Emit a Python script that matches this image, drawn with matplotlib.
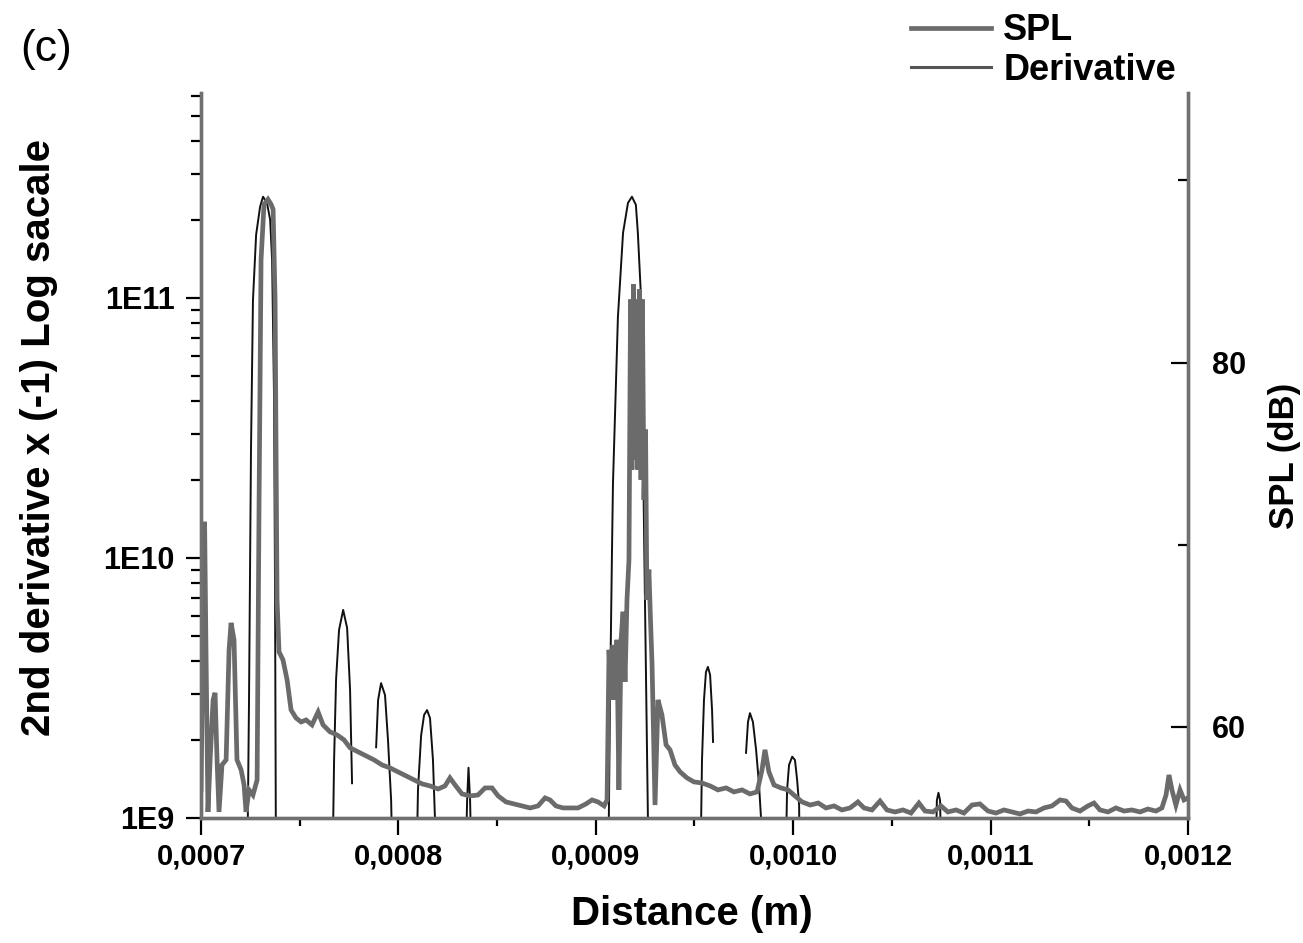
import numpy as np
import matplotlib
matplotlib.use('Agg')
import matplotlib.pyplot as plt
from matplotlib.ticker import MultipleLocator, FuncFormatter, LogLocator, NullFormatter

# ---------- data ---------- #

# SPL curve: distance in micrometres, level in dB
spl_um = [700.0, 701.0, 701.8, 702.5, 703.5, 704.6, 706.1, 707.1, 708.1, 709.1,
          710.6, 712.7, 714.2, 715.2, 716.7, 718.2, 720.3, 721.8, 722.8, 724.3,
          726.3, 728.4, 729.4, 730.4, 731.9, 733.9, 735.5, 736.5, 737.5, 738.5,
          739.5, 741.5, 743.6, 745.6, 748.1, 750.7, 753.2, 756.2, 759.3, 761.8,
          765.3, 768.9, 772.4, 775.5, 779.5, 783.6, 787.6, 791.7, 795.7, 799.8,
          803.9, 807.9, 812.0, 816.0, 820.1, 823.6, 826.1, 828.7, 832.2, 836.3,
          840.3, 843.9, 847.4, 850.5, 854.5, 858.6, 862.6, 866.7, 870.7, 874.3,
          876.8, 879.8, 883.4, 886.9, 891.0, 895.0, 898.1, 901.1, 904.2,
          905.7, 906.7, 907.7, 908.7, 909.7, 910.7, 911.7, 912.8, 913.8, 914.8,
          915.8, 916.8, 917.6, 918.3, 919.1, 919.8, 920.6, 921.3, 922.1, 922.9,
          923.6, 924.4, 925.2, 925.9, 926.9, 927.7, 928.5, 930.0,
          931.5, 933.5, 935.6, 937.6,
          940.1, 942.7, 946.2, 949.7, 953.8, 957.9, 961.9, 966.0, 970.0, 974.1,
          978.1, 981.7, 984.2, 985.7, 987.7, 990.3, 993.8, 997.4, 1000.9, 1004.5,
          1008.6, 1012.7, 1016.6, 1020.7, 1024.7, 1028.8, 1032.8, 1035.9, 1039.9, 1044.0,
          1047.5, 1051.6, 1055.6, 1059.7, 1063.7, 1066.8, 1070.8, 1074.9, 1078.4, 1082.5,
          1086.5, 1090.6, 1094.6, 1098.7, 1102.7, 1106.8, 1110.8, 1114.9, 1119.0, 1123.0,
          1127.1, 1131.1, 1135.2, 1138.2, 1141.2, 1145.3, 1149.3, 1152.4, 1155.4, 1159.5,
          1163.5, 1167.6, 1171.6, 1175.7, 1179.7, 1183.8, 1186.8, 1188.9, 1190.4, 1191.9,
          1193.9, 1196.0, 1198.0, 1200.0]
spl_db = [56.54, 65.88, 71.26, 64.23, 55.33, 58.19, 61.48, 61.87, 58.19, 55.33,
          57.91, 58.19, 64.23, 65.71, 64.78, 58.19, 57.64, 56.81, 55.33, 56.54,
          56.26, 57.09, 72.47, 85.66, 88.68, 88.96, 88.68, 88.41, 83.46, 66.98,
          64.12, 63.68, 62.58, 60.93, 60.49, 60.27, 60.38, 60.11, 60.82, 60.11,
          59.73, 59.56, 59.29, 58.85, 58.63, 58.41, 58.19, 57.91, 57.75, 57.53,
          57.31, 57.09, 56.87, 56.76, 56.59, 56.76, 57.20, 56.81, 56.32, 56.21,
          56.26, 56.65, 56.65, 56.21, 55.88, 55.77, 55.66, 55.55, 55.66, 56.10,
          55.99, 55.66, 55.55, 55.55, 55.55, 55.77, 55.99, 55.88, 55.66,
          55.99, 64.23, 61.48, 64.50, 61.48, 64.78, 56.54, 64.78, 66.32, 62.47,
          66.98, 69.18, 83.46, 74.12, 84.29, 74.67, 83.46, 74.12, 84.01, 73.57,
          83.46, 72.47, 76.32, 66.98, 68.63, 65.88, 63.41, 55.71,
          61.48, 60.66, 59.01, 58.74,
          57.91, 57.53, 57.20, 56.98, 56.92, 56.76, 56.54, 56.65, 56.43, 56.54,
          56.32, 56.43, 57.64, 58.74, 57.53, 56.81, 56.65, 56.54, 56.21, 55.88,
          55.71, 55.82, 55.55, 55.66, 55.44, 55.55, 55.88, 55.55, 55.44, 55.93,
          55.44, 55.33, 55.44, 55.27, 55.82, 55.38, 55.33, 55.66, 55.33, 55.44,
          55.27, 55.71, 55.77, 55.38, 55.27, 55.44, 55.33, 55.22, 55.38, 55.33,
          55.55, 55.66, 55.99, 55.93, 55.55, 55.38, 55.66, 55.82, 55.44, 55.33,
          55.55, 55.38, 55.44, 55.33, 55.49, 55.38, 55.55, 56.26, 57.36, 56.54,
          55.71, 56.54, 55.99, 56.10]

# 2nd derivative x (-1): separate lobes, None breaks the line between lobes
der_um = [723.3, 724.3, 725.3, 726.3, 727.9, 729.9, 731.4, 733.4, 735.0, 736.0, 737.0, 737.5, 738.0, None,
          766.4, 767.4, 768.4, 769.9, 772.0, 774.0, 775.5, 776.5, None,
          788.7, 789.7, 791.2, 793.2, 794.7, 796.3, 797.3, None,
          808.9, 809.9, 811.5, 813.0, 814.5, 816.0, 817.5, 818.5, 819.0, None,
          833.7, 834.8, 835.5, 836.3, 837.3, None,
          906.2, 907.2, 908.2, 908.7, 909.7, 911.2, 913.8, 916.3, 918.3, 920.3, 921.3, 923.4, 923.9, 924.9, 926.4, 927.5, None,
          952.8, 953.8, 954.8, 955.8, 956.8, 957.9, 958.9, 959.4, None,
          976.1, 977.1, 978.1, 979.6, 981.2, 982.7, 983.7, 984.2, None,
          995.9, 996.9, 997.9, 999.5, 1000.9, 1002.0, 1003.0, 1003.5, None,
          1071.8, 1072.8, 1073.6, 1074.4, 1075.4]
der_val = [5e8, 2.84e9, 2.6e10, 9.8e10, 1.75e11, 2.24e11, 2.45e11, 2.32e11, 2.0e11, 1.4e11, 4.05e10, 6.9e9, 5e8, None,
           5e8, 1.67e9, 3.4e9, 5.28e9, 6.31e9, 5.38e9, 3.1e9, 1.36e9, None,
           1.87e9, 2.84e9, 3.3e9, 2.97e9, 2.0e9, 1.17e9, 5e8, None,
           5e8, 1.28e9, 2.08e9, 2.49e9, 2.6e9, 2.42e9, 1.67e9, 1.0e9, 5e8, None,
           5e8, 1.17e9, 1.56e9, 1.17e9, 5e8, None,
           5e8, 2.84e9, 1.07e10, 1.94e10, 3.49e10, 8.45e10, 1.78e11, 2.32e11, 2.45e11, 2.28e11, 1.78e11, 8.45e10, 2.6e10, 6.9e9, 1.0e9, 5e8, None,
           5e8, 1.67e9, 2.84e9, 3.64e9, 3.81e9, 3.55e9, 2.6e9, 1.96e9, None,
           1.78e9, 2.34e9, 2.53e9, 2.34e9, 1.83e9, 1.34e9, 1.0e9, 5e8, None,
           5e8, 1.28e9, 1.6e9, 1.72e9, 1.67e9, 1.4e9, 1.12e9, 5e8, None,
           5e8, 1.17e9, 1.25e9, 1.17e9, 5e8]

x_ticks = [0.0007, 0.0008, 0.0009, 0.0010, 0.0011, 0.0012]

# ---------- plot ---------- #

plt.rcParams['font.family'] = ['Liberation Sans', 'DejaVu Sans']

gray = '#6b6b6b'
spine_gray = '#707070'

fig = plt.figure(figsize=(13.03, 9.43), dpi=100)
ax = fig.add_axes([0.1543, 0.1326, 0.7574, 0.7688])
ax2 = ax.twinx()

# derivative on the log axis (drawn underneath)
der_x = np.array(der_um, dtype=float) / 1e6
der_y = np.array(der_val, dtype=float)
l_der, = ax.plot(der_x, der_y, color='#111111', lw=1.4, label='Derivative')
ax.set_yscale('log')
ax.set_ylim(1e9, 6.14e11)
ax.set_xlim(x_ticks[0], x_ticks[-1])

# SPL on the right axis (drawn on top)
spl_x = np.array(spl_um) / 1e6
l_spl, = ax2.plot(spl_x, spl_db, color=gray, lw=3.4, solid_joinstyle='miter', label='SPL')
ax2.set_ylim(55, 94.8)

# axes styling
for a in (ax, ax2):
    a.spines['top'].set_visible(False)
    for s in ('left', 'right', 'bottom'):
        a.spines[s].set_color(spine_gray)
        a.spines[s].set_linewidth(2.4)

ax.set_xticks(x_ticks)
ax.xaxis.set_minor_locator(MultipleLocator(0.00005))
ax.xaxis.set_major_formatter(FuncFormatter(lambda v, p: f'{v:.4f}'.replace('.', ',')))
ax.tick_params(axis='x', which='major', direction='out', length=12, width=1.6, pad=6,
               labelsize=21)
ax.tick_params(axis='x', which='minor', direction='out', length=6, width=1.6)

ax.yaxis.set_major_locator(LogLocator(base=10))
ax.yaxis.set_minor_locator(LogLocator(base=10, subs=np.arange(2, 10)))
ax.yaxis.set_minor_formatter(NullFormatter())
ax.yaxis.set_major_formatter(FuncFormatter(lambda v, p: f'1E{int(round(np.log10(v)))}'))
ax.tick_params(axis='y', which='major', direction='out', length=11, width=1.6, pad=8,
               labelsize=22)
ax.tick_params(axis='y', which='minor', direction='out', length=7, width=1.6)
ax.tick_params(axis='y', which='both', right=False)

ax2.yaxis.set_major_locator(MultipleLocator(20))
ax2.yaxis.set_minor_locator(MultipleLocator(10))
ax2.tick_params(axis='y', which='major', direction='in', length=12, width=1.6, pad=17,
                labelsize=22)
ax2.tick_params(axis='y', which='minor', direction='in', length=7, width=1.6)

for lab in ax.get_xticklabels() + ax.get_yticklabels() + ax2.get_yticklabels():
    lab.set_fontweight('bold')

ax.set_xlabel('Distance (m)', fontsize=29, fontweight='bold')
ax.xaxis.set_label_coords(0.497, -0.106)
ax.set_ylabel('2nd derivative x (-1) Log sacale', fontsize=29, fontweight='bold')
ax.yaxis.set_label_coords(-0.145, 0.525)
ax2.set_ylabel('SPL (dB)', fontsize=25, fontweight='bold', rotation=90)
ax2.yaxis.set_label_coords(1.081, 0.5)

fig.text(20 / 1303, 1 - 50 / 943, '(c)', fontsize=32, va='center', ha='left')

leg = fig.legend([l_spl, l_der], ['SPL', 'Derivative'], loc='upper left',
                 bbox_to_anchor=(893 / 1303, 1.005), frameon=False,
                 prop={'size': 26, 'weight': 'bold'}, handlelength=2.2,
                 handletextpad=0.35, labelspacing=0.12, borderpad=0.0)
leg.legend_handles[1].set_color('#555555')
leg.legend_handles[1].set_linewidth(2.2)

fig.savefig('out.png', dpi=100)
